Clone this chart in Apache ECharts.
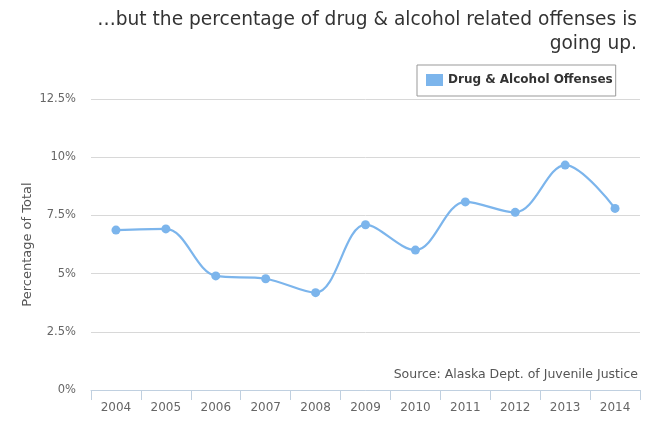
<!DOCTYPE html>
<html>
<head>
<meta charset="utf-8">
<script src="https://cdn.jsdelivr.net/npm/echarts@6/dist/echarts.min.js"></script>
<style>
  html, body { margin: 0; padding: 0; background: #fff; }
  #chart { width: 650px; height: 434px; }
</style>
</head>
<body>
<div id="chart"></div>
<script>
// years on the x axis
const years = ['2004', '2005', '2006', '2007', '2008', '2009', '2010', '2011', '2012', '2013', '2014'];
// share of offenses that were drug & alcohol related (%)
const drugAlcohol = [6.87, 6.92, 4.9, 4.78, 4.18, 7.1, 6.01, 8.08, 7.63, 9.66, 7.8];
const seriesName = 'Drug & Alcohol Offenses';
const titleLines = ['…but the percentage of drug & alcohol related offenses is', 'going up.'];
const sourceText = 'Source: Alaska Dept. of Juvenile Justice';

const font = 'DejaVu Sans';
const chart = echarts.init(document.getElementById('chart'));

const option = {
  animation: false,
  textStyle: { fontFamily: font },
  graphic: [
    {
      type: 'text',
      right: 13,
      top: 11,
      style: { text: titleLines[0], font: `18.6px "${font}"`, fill: '#333' },
    },
    {
      type: 'text',
      right: 13,
      top: 35,
      style: { text: titleLines[1], font: `18.6px "${font}"`, fill: '#333' },
    },
    {
      type: 'text',
      right: 12,
      top: 368,
      style: { text: sourceText, font: `12.5px "${font}"`, fill: '#555' },
    },
  ],
  legend: {
    data: [seriesName],
    left: 417,
    top: 65,
    padding: [9, 3, 10, 9],
    borderColor: '#999',
    borderWidth: 1,
    icon: 'rect',
    itemWidth: 17,
    itemHeight: 12,
    itemGap: 6,
    textStyle: { fontSize: 12, fontWeight: 'bold', color: '#333', fontFamily: font },
  },
  grid: { left: 91, right: 10, top: 99, bottom: 44 },
  xAxis: {
    type: 'category',
    data: years,
    boundaryGap: true,
    axisLine: { lineStyle: { color: '#C0D0E0', width: 1 } },
    axisTick: { show: true, length: 10, lineStyle: { color: '#C0D0E0' } },
    axisLabel: { color: '#666', fontSize: 12, margin: 12 },
  },
  yAxis: {
    type: 'value',
    min: 0,
    max: 12.5,
    interval: 2.5,
    name: 'Percentage of Total',
    nameLocation: 'middle',
    nameGap: 57,
    nameMoveOverlap: false,
    nameTextStyle: { color: '#555', fontSize: 13 },
    axisLine: { show: false },
    axisTick: { show: false },
    splitLine: { lineStyle: { color: '#D8D8D8' } },
    axisLabel: {
      color: '#666',
      fontSize: 11.5,
      margin: 15,
      formatter: (v) => `${v}%`,
    },
  },
  series: [{
    name: seriesName,
    type: 'line',
    data: drugAlcohol,
    smooth: 0.35,
    symbol: 'circle',
    symbolSize: 9,
    itemStyle: { color: '#7CB5EC' },
    lineStyle: { color: '#7CB5EC', width: 2.2 },
  }],
};

chart.setOption(option);
</script>
</body>
</html>
